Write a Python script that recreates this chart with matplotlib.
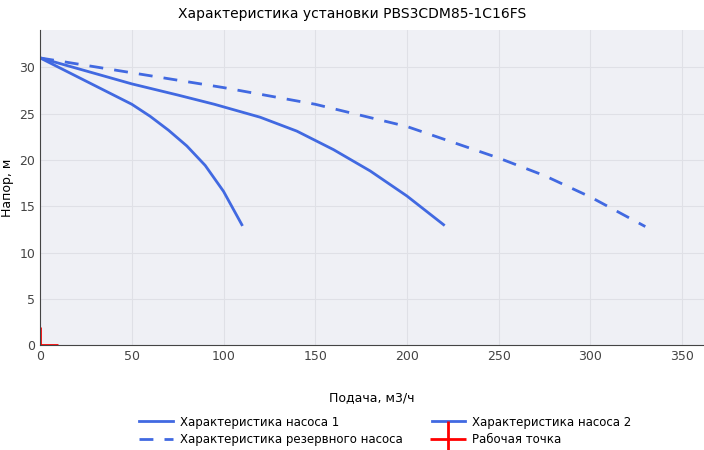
import matplotlib
matplotlib.use("Agg")
from matplotlib import pyplot as plt

# data
q1 = [0, 10, 20, 30, 40, 50, 60, 70, 80, 90, 100, 110]
h1 = [31, 30.0, 29.0, 28.0, 27.0, 26.0, 24.7, 23.2, 21.5, 19.4, 16.6, 13]
q2 = [0, 25, 50, 75, 95, 120, 140, 160, 180, 200, 220]
h2 = [31, 29.6, 28.2, 27.0, 26.0, 24.6, 23.1, 21.1, 18.8, 16.1, 13]
q3 = [0, 50, 100, 150, 200, 250, 275, 300, 330]
h3 = [31, 29.4, 27.8, 26.0, 23.6, 20.2, 18.3, 16.0, 12.8]
work_q = [0]
work_h = [0]

blue = "#4169e1"
fig = plt.figure(figsize=(7.04, 4.5), dpi=100)
ax = fig.add_axes([0.057, 0.233, 0.943, 0.7])
ax.set_facecolor("#eff0f5")
for s in ["top", "right"]:
    ax.spines[s].set_visible(False)
ax.spines["left"].set_color("#444444")
ax.spines["bottom"].set_color("#444444")

ax.plot(q1, h1, color=blue, lw=2, label="Характеристика насоса 1")
ax.plot(q3, h3, color=blue, lw=2, ls=(0, (5, 4)), label="Характеристика резервного насоса")
ax.plot(q2, h2, color=blue, lw=2, label="Характеристика насоса 2")
ax.plot(work_q, work_h, "+", color="red", ms=26, mew=2, label="Рабочая точка")

ax.set_xlim(0, 362)
ax.set_ylim(0, 34)
ax.set_xticks(range(0, 351, 50))
ax.set_yticks(range(0, 31, 5))
ax.grid(color="#dfe0e6", lw=0.8)
ax.set_axisbelow(True)
ax.tick_params(length=0, labelsize=9, colors="#444444")
ax.set_xlabel("Подача, м3/ч", fontsize=9, labelpad=20)
ax.set_ylabel("Напор, м", fontsize=9)
fig.suptitle("Характеристика установки PBS3CDM85-1C16FS", fontsize=10, y=0.985)

ax.legend(loc="upper center", bbox_to_anchor=(0.52, -0.19), ncol=2, frameon=False,
          fontsize=8.5, handlelength=2.8, columnspacing=2.5, handletextpad=0.6,
          labelspacing=0.4)
fig.savefig("out.png")
